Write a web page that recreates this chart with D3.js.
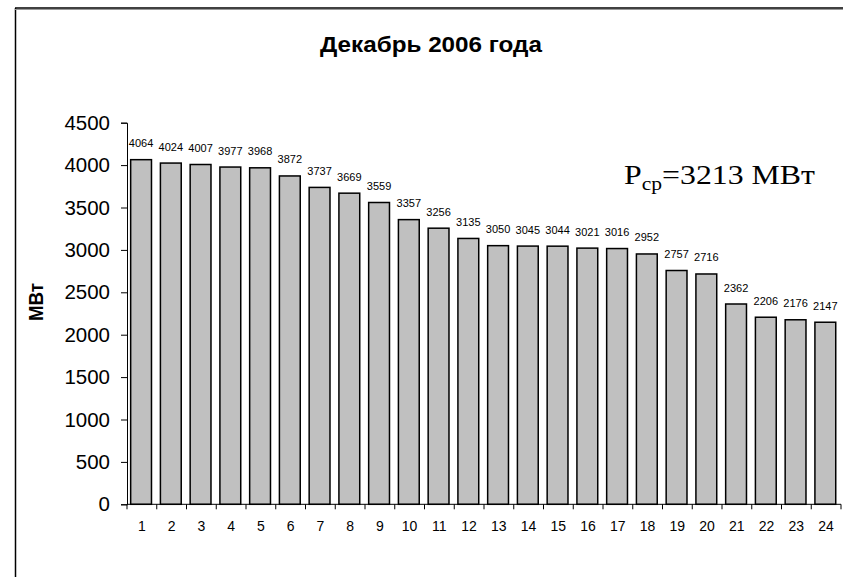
<!DOCTYPE html>
<html>
<head>
<meta charset="utf-8">
<script src="https://cdn.jsdelivr.net/npm/d3@7"></script>
<style>
  html, body { margin: 0; padding: 0; background: #fff; }
  svg { display: block; }
  text { font-family: Arial, "Liberation Sans", sans-serif; fill: #000; }
</style>
</head>
<body>
<svg id="chart" width="843" height="577"></svg>
<script>
// Hourly load, December 2006
const hours = d3.range(1, 25);
const loadMW = [4064, 4024, 4007, 3977, 3968, 3872, 3737, 3669, 3559, 3357, 3256, 3135,
                3050, 3045, 3044, 3021, 3016, 2952, 2757, 2716, 2362, 2206, 2176, 2147];
const yTicks = [0, 500, 1000, 1500, 2000, 2500, 3000, 3500, 4000, 4500];
const titleText = "Декабрь 2006 года";
const yLabel = "МВт";
const avgValue = 3213;

const svg = d3.select("#chart");

// chart frame (left and top edges)
svg.append("line").attr("x1", 15.5).attr("x2", 15.5).attr("y1", 8).attr("y2", 577)
  .attr("stroke", "#000").attr("stroke-width", 1.5);
svg.append("line").attr("x1", 15).attr("x2", 843).attr("y1", 8).attr("y2", 8)
  .attr("stroke", "#000").attr("stroke-width", 1.5);
svg.append("line").attr("x1", 15).attr("x2", 843).attr("y1", 9.5).attr("y2", 9.5)
  .attr("stroke", "#999").attr("stroke-width", 1);

const plotLeft = 127, plotRight = 841, plotTop = 122.7, plotBottom = 504.3;

const x = d3.scaleBand().domain(hours).range([plotLeft, plotRight]).paddingInner(0.3).paddingOuter(0.15);
const y = d3.scaleLinear().domain([0, 4500]).range([plotBottom, plotTop]);

// bars
svg.append("g").selectAll("rect").data(loadMW).join("rect")
  .attr("x", (d, i) => x(hours[i]) - 0.8)
  .attr("width", x.bandwidth())
  .attr("y", d => y(d))
  .attr("height", d => y(0) - y(d))
  .attr("fill", "#C0C0C0")
  .attr("stroke", "#000")
  .attr("stroke-width", 1.5);

// value labels
svg.append("g").selectAll("text").data(loadMW).join("text")
  .attr("x", (d, i) => x(hours[i]) + x.bandwidth() / 2 - 0.8)
  .attr("y", d => y(d) - 12.5)
  .attr("text-anchor", "middle")
  .attr("font-size", 11)
  .text(d => d);

// y axis
const yAxis = d3.axisLeft(y).tickValues(yTicks).tickFormat(d3.format("d")).tickSize(6).tickPadding(11);
const gy = svg.append("g").attr("transform", `translate(${plotLeft},0)`).call(yAxis);
gy.selectAll("text").attr("font-size", 20.5).attr("font-family", "Arial, 'Liberation Sans', sans-serif");
gy.select(".domain").attr("stroke", "#000");

// x axis: ticks at category boundaries, labels centred in each category
const xb = d3.scaleLinear().domain([0, 24]).range([plotLeft, plotRight]);
const gx = svg.append("g").attr("transform", `translate(0,${plotBottom})`);
gx.append("line").attr("x1", plotLeft).attr("x2", plotRight).attr("stroke", "#000");
gx.selectAll("line.tk").data(d3.range(0, 25)).join("line").attr("class", "tk")
  .attr("x1", d => xb(d)).attr("x2", d => xb(d)).attr("y1", 0).attr("y2", 5)
  .attr("stroke", "#000");
gx.selectAll("text").data(hours).join("text")
  .attr("x", d => xb(d - 0.5))
  .attr("y", 27)
  .attr("text-anchor", "middle")
  .attr("font-size", 14)
  .text(d => d);

// title
svg.append("text").attr("x", 431).attr("y", 52).attr("text-anchor", "middle")
  .attr("font-size", 22).attr("font-weight", "bold")
  .attr("textLength", 222).attr("lengthAdjust", "spacingAndGlyphs")
  .text(titleText);

// axis title
svg.append("text").attr("transform", "translate(43,302) rotate(-90)")
  .attr("text-anchor", "middle").attr("font-size", 21).attr("font-weight", "bold")
  .attr("textLength", 38).attr("lengthAdjust", "spacingAndGlyphs")
  .text(yLabel);

// average load annotation
const avg = svg.append("text").attr("x", 624).attr("y", 184)
  .style("font-family", "'Times New Roman', 'Liberation Serif', serif")
  .attr("font-size", 28)
  .attr("textLength", 191).attr("lengthAdjust", "spacingAndGlyphs");
avg.append("tspan").text("P");
avg.append("tspan").attr("font-size", 19).attr("dy", 6).text("ср");
avg.append("tspan").attr("dy", -6).text(`=${avgValue} МВт`);
</script>
</body>
</html>
